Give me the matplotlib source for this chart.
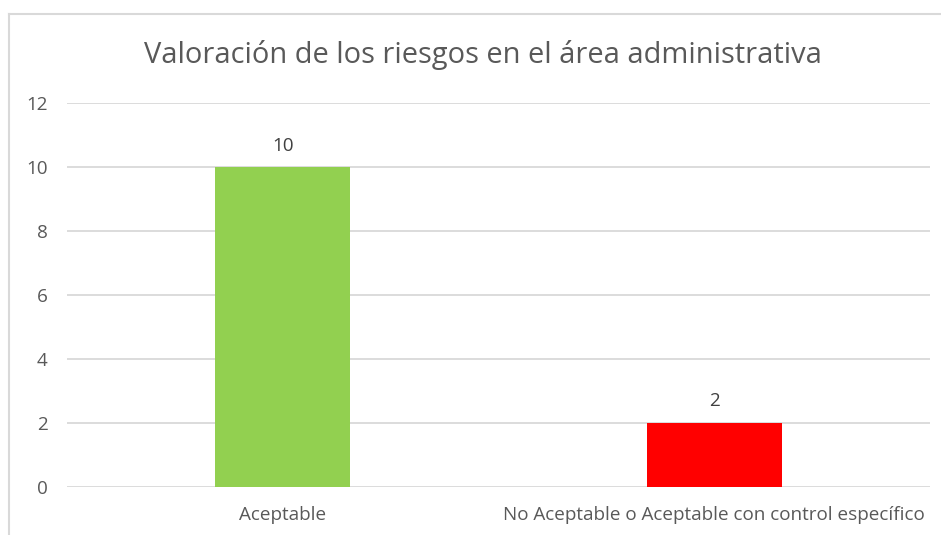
import matplotlib
matplotlib.use("Agg")
import matplotlib.pyplot as plt
from matplotlib.lines import Line2D

categories = ["Aceptable", "No Aceptable o Aceptable con control específico"]
values = [10, 2]
colors = ["#92D050", "#FF0000"]
yticks = [0, 2, 4, 6, 8, 10, 12]
title = "Valoración de los riesgos en el área administrativa"

plt.rcParams['font.family'] = ['Open Sans', 'DejaVu Sans']
W, H = 941, 535
fig = plt.figure(figsize=(W/100, H/100), dpi=100)
ax = fig.add_axes([67/W, 1-487/H, (930-67)/W, (487-103)/H])

x = list(range(len(categories)))
bars = ax.bar(x, values, width=0.313, color=colors, zorder=3)
ax.set_xlim(-0.5, len(categories)-0.5)
ax.set_ylim(0, 12)
ax.set_yticks(yticks)
ax.set_xticks(x)
ax.set_xticklabels(categories)
ax.grid(axis='y', color='#D9D9D9', linewidth=1.3, zorder=0)
for s in ax.spines.values():
    s.set_visible(False)
ax.tick_params(axis='both', length=0, labelsize=13.6, colors='#595959')
ax.tick_params(axis='y', pad=14)
ax.tick_params(axis='x', pad=14)
for b, v in zip(bars, values):
    ax.annotate(str(v), (b.get_x()+b.get_width()/2, v), xytext=(0, 9),
                textcoords='offset points', ha='center', va='bottom',
                fontsize=13.6, color='#404040')

fig.text(483/W, 1-55/H, title, ha='center', va='center', fontsize=20.9, color='#595959')

# chart border
fig.add_artist(Line2D([9/W, 9/W], [0, 1-14/H], color='#D9D9D9', linewidth=1.5, transform=fig.transFigure))
fig.add_artist(Line2D([9/W, 1], [1-14/H, 1-14/H], color='#D9D9D9', linewidth=1.5, transform=fig.transFigure))

fig.savefig("out.png", dpi=100)
